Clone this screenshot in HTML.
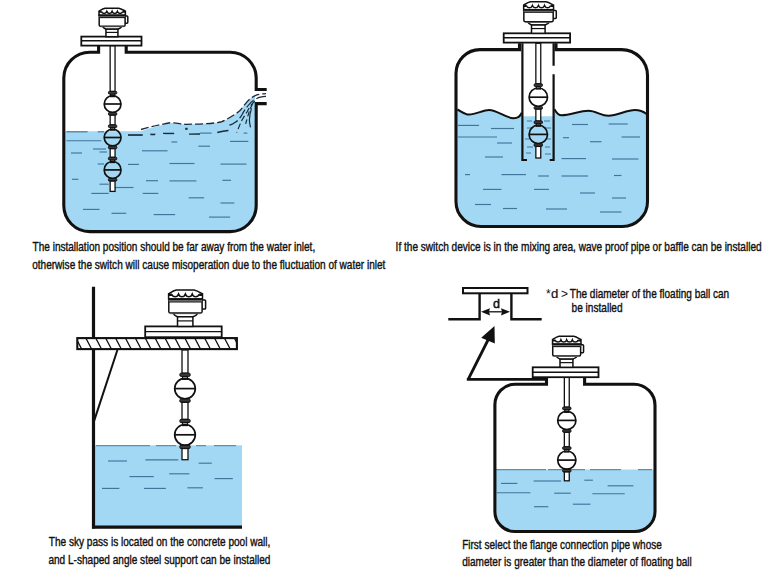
<!DOCTYPE html>
<html><head><meta charset="utf-8"><style>
html,body{margin:0;padding:0;background:#fff;width:780px;height:571px;overflow:hidden;font-family:"Liberation Sans",sans-serif;}
</style></head><body>
<svg width="780" height="571" viewBox="0 0 780 571" style="position:absolute;left:0;top:0">
<rect width="780" height="571" fill="#fff"/>
<path d="M65.2,131.2 L141,131.2 C150,128 160,125 171,123 C178,123.5 182,124.5 186,124.4 C195,124.3 210,124 221,122 C226,120 229,118.5 231.5,116.8 C235,114.5 238,112.5 240,110.5 C243,107 244,105 246.2,103.1 C249,99.5 252,97 255,95.8 L255,205.6 A24.6,24.6 0 0 1 230.4,230.2 L89.8,230.2 A24.6,24.6 0 0 1 65.2,205.6 Z" fill="#a2d8f3"/>
<line x1="66.4" y1="131.8" x2="87.6" y2="131.8" stroke="#40769a" stroke-width="1.15"/>
<line x1="97.7" y1="131.8" x2="104" y2="131.8" stroke="#40769a" stroke-width="1.15"/>
<line x1="66.4" y1="140.7" x2="101.4" y2="140.7" stroke="#40769a" stroke-width="1.15"/>
<line x1="93" y1="149" x2="106" y2="149" stroke="#40769a" stroke-width="1.15"/>
<line x1="71" y1="153" x2="82" y2="153" stroke="#40769a" stroke-width="1.15"/>
<line x1="99.5" y1="152" x2="107" y2="152" stroke="#40769a" stroke-width="1.15"/>
<line x1="128" y1="135.1" x2="142.7" y2="135.1" stroke="#40769a" stroke-width="1.15"/>
<line x1="150" y1="134" x2="155.6" y2="134" stroke="#40769a" stroke-width="1.15"/>
<line x1="142" y1="150.8" x2="167.5" y2="150.8" stroke="#40769a" stroke-width="1.15"/>
<line x1="97.7" y1="164" x2="104" y2="164" stroke="#40769a" stroke-width="1.15"/>
<line x1="128" y1="164.4" x2="139" y2="164.4" stroke="#40769a" stroke-width="1.15"/>
<line x1="72" y1="179.3" x2="78.4" y2="179.3" stroke="#40769a" stroke-width="1.15"/>
<line x1="99.5" y1="184.2" x2="108.7" y2="184.2" stroke="#40769a" stroke-width="1.15"/>
<line x1="115" y1="187.5" x2="133.5" y2="187.5" stroke="#40769a" stroke-width="1.15"/>
<line x1="146" y1="180.7" x2="158" y2="180.7" stroke="#40769a" stroke-width="1.15"/>
<line x1="91.3" y1="193.4" x2="108.7" y2="193.4" stroke="#40769a" stroke-width="1.15"/>
<line x1="142.7" y1="193.4" x2="158.3" y2="193.4" stroke="#40769a" stroke-width="1.15"/>
<line x1="83" y1="209.4" x2="99.5" y2="209.4" stroke="#40769a" stroke-width="1.15"/>
<line x1="111.5" y1="213.3" x2="126.2" y2="213.3" stroke="#40769a" stroke-width="1.15"/>
<line x1="153.7" y1="214.6" x2="175.2" y2="214.6" stroke="#40769a" stroke-width="1.15"/>
<line x1="164.6" y1="133.7" x2="174.3" y2="133.7" stroke="#40769a" stroke-width="1.15"/>
<line x1="171.4" y1="142" x2="177.2" y2="142" stroke="#40769a" stroke-width="1.15"/>
<line x1="198.4" y1="146.2" x2="210" y2="146.2" stroke="#40769a" stroke-width="1.15"/>
<line x1="230" y1="141.4" x2="248.4" y2="141.4" stroke="#40769a" stroke-width="1.15"/>
<line x1="169.5" y1="163.5" x2="194.5" y2="163.5" stroke="#40769a" stroke-width="1.15"/>
<line x1="220.5" y1="164.1" x2="246.5" y2="164.1" stroke="#40769a" stroke-width="1.15"/>
<line x1="169.5" y1="180.9" x2="196.4" y2="180.9" stroke="#40769a" stroke-width="1.15"/>
<line x1="222.4" y1="180.3" x2="231.1" y2="180.3" stroke="#40769a" stroke-width="1.15"/>
<line x1="188.7" y1="197.8" x2="204.1" y2="197.8" stroke="#40769a" stroke-width="1.15"/>
<line x1="220.5" y1="203" x2="234.4" y2="203" stroke="#40769a" stroke-width="1.15"/>
<line x1="209" y1="217.1" x2="230.1" y2="217.1" stroke="#40769a" stroke-width="1.15"/>
<line x1="200" y1="133.1" x2="211.6" y2="133.1" stroke="#40769a" stroke-width="1.15"/>
<line x1="243.6" y1="133.1" x2="247.3" y2="133.1" stroke="#40769a" stroke-width="1.15"/>
<path d="M141,129.5 C150,127 160,124.5 171,122.6 C178,123 182,124.4 186,124.3 C195,124.2 210,124 221,122 C228,119 236,114 240,110.5 C244,106 248,99 254.7,95.8 C258,94.5 262,93.8 266,93.6" fill="none" stroke="#1a2a3a" stroke-width="1.3" stroke-dasharray="8,3"/>
<path d="M266,96.3 C262,96.5 259,97 256.8,98.4 C253,100.5 251,102 249.4,104.2 C246,108 244,111 242,114.7 C240,118 238,120.5 235.7,122 C233,124 231,124.8 229.4,125.2" fill="none" stroke="#1a2a3a" stroke-width="1.2" stroke-dasharray="10,3"/>
<path d="M254.7,101 C251,105 249,108 247.3,111.5 C245,115 243.5,117.5 242,120 C240,124 238.5,128 236.8,132.6" fill="none" stroke="#1a2a3a" stroke-width="1.2" stroke-dasharray="6,3"/>
<path d="M252.5,104.2 C250.5,107.5 249.5,110.5 248.3,114.7 C247,119 246,122 245.2,126.2" fill="none" stroke="#1a2a3a" stroke-width="1.2" stroke-dasharray="5,3"/>
<path d="M251.5,108.4 C250.3,112 249.5,116 249.4,120 C249.4,123 250,125 250.5,127.3" fill="none" stroke="#1a2a3a" stroke-width="1.2"/>
<path d="M217.3,132.5 C221,131.5 225,130.8 228.4,130.5" fill="none" stroke="#1a2a3a" stroke-width="1.3"/>
<path d="M128,135 L142.6,135 M150.6,134.6 L155,134.6 M163,133.3 L174,133.3 M189,134.2 L200,134" fill="none" stroke="#1a2a3a" stroke-width="1.3"/>
<rect x="185.2" y="127.8" width="2.4" height="2" fill="#1a2a3a"/>
<path d="M98.6,45.6 L98.6,52.2 L90,52.2 A26,26 0 0 0 63.8,78 L63.8,205.6 A26,26 0 0 0 89.8,231.6 L230.2,231.6 A26,26 0 0 0 256.2,205.6 L256.2,103.6 L266.7,103.6 M266.7,89.5 L256.2,89.5 L256.2,78 A26,26 0 0 0 230.2,52.2 L126.2,52.2 L126.2,45.6" fill="none" stroke="#111" stroke-width="3.1"/>
<rect x="110.15" y="45.6" width="4.9" height="45.8" rx="0" fill="#fff" stroke="#111" stroke-width="1.3"/>
<rect x="110.6" y="94.0" width="4.0" height="2.6" rx="0" fill="#fff" stroke="#111" stroke-width="1.3"/>
<rect x="108.4" y="91.4" width="8.4" height="2.6" rx="1" fill="#3a3a3a" stroke="#111" stroke-width="1.0"/>
<circle cx="112.6" cy="104.0" r="8.4" fill="none" stroke="#111" stroke-width="1.7"/>
<line x1="104.2" y1="104.0" x2="121.0" y2="104.0" stroke="#111" stroke-width="1.7"/>
<rect x="108.4" y="112.6" width="8.4" height="2.6" rx="1" fill="#3a3a3a" stroke="#111" stroke-width="1.0"/>
<rect x="110.15" y="115.2" width="4.9" height="9.7" rx="0" fill="#fff" stroke="#111" stroke-width="1.3"/>
<rect x="110.6" y="127.5" width="4.0" height="2.6" rx="0" fill="#fff" stroke="#111" stroke-width="1.3"/>
<rect x="108.4" y="124.9" width="8.4" height="2.6" rx="1" fill="#3a3a3a" stroke="#111" stroke-width="1.0"/>
<circle cx="112.6" cy="137.5" r="8.4" fill="none" stroke="#111" stroke-width="1.7"/>
<line x1="104.2" y1="137.5" x2="121.0" y2="137.5" stroke="#111" stroke-width="1.7"/>
<rect x="108.4" y="146.1" width="8.4" height="2.6" rx="1" fill="#3a3a3a" stroke="#111" stroke-width="1.0"/>
<rect x="110.15" y="148.7" width="4.9" height="8.6" rx="0" fill="#fff" stroke="#111" stroke-width="1.3"/>
<rect x="110.6" y="159.9" width="4.0" height="2.6" rx="0" fill="#fff" stroke="#111" stroke-width="1.3"/>
<rect x="108.4" y="157.3" width="8.4" height="2.6" rx="1" fill="#3a3a3a" stroke="#111" stroke-width="1.0"/>
<circle cx="112.6" cy="169.9" r="8.4" fill="none" stroke="#111" stroke-width="1.7"/>
<line x1="104.2" y1="169.9" x2="121.0" y2="169.9" stroke="#111" stroke-width="1.7"/>
<rect x="108.4" y="178.5" width="8.4" height="2.6" rx="1" fill="#3a3a3a" stroke="#111" stroke-width="1.0"/>
<rect x="110.15" y="181.1" width="4.9" height="10.3" rx="0" fill="#fff" stroke="#111" stroke-width="1.3"/>
<rect x="81.3" y="36.6" width="60.2" height="9.0" fill="#fff" stroke="#111" stroke-width="1.8"/><line x1="81.3" y1="40.8" x2="141.5" y2="40.8" stroke="#111" stroke-width="1.4"/>
<rect x="124.61" y="15.97" width="3.19" height="7.2" rx="0.8" fill="#fff" stroke="#111" stroke-width="1.5"/>
<path d="M102.3,26.14 C103.46,28.09 105.02,28.8 105.95,29.19 L117.93,29.19 C119.01,28.8 120.96,28.09 121.97,26.14 Z" fill="#fff" stroke="#111" stroke-width="1.5"/>
<path d="M99.19,15.03 L99.19,24.96 Q99.19,26.29 100.51,26.29 L123.76,26.29 Q125.08,26.29 125.08,24.96 L125.08,15.03 Z" fill="#fff" stroke="#111" stroke-width="1.5"/>
<path d="M99.03,15.34 L99.03,11.12 C100.35,10.33 102.69,8.61 105.02,8.14 L118.78,8.14 C121.35,8.61 123.68,10.33 125.39,11.12 L125.39,15.34 Z" fill="#fff" stroke="#111" stroke-width="1.5"/>
<path d="M98.8,10.96 L101.6,10.96 L101.6,12.84 L98.8,12.84 Z M122.75,10.96 L125.62,10.96 L125.62,12.84 L122.75,12.84 Z" fill="#111"/>
<path d="M101.44,11.59 C102.24,14.09 105.97,14.09 106.77,11.59 C107.57,14.09 111.3,14.09 112.09,11.59 C112.89,14.09 116.62,14.09 117.42,11.59 C118.22,14.09 121.95,14.09 122.75,11.59" fill="none" stroke="#111" stroke-width="1.5"/>
<circle cx="106.77" cy="11.74" r="0.78" fill="#111"/>
<circle cx="112.09" cy="11.74" r="0.78" fill="#111"/>
<circle cx="117.42" cy="11.74" r="0.78" fill="#111"/>
<rect x="99.19" y="15.42" width="25.89" height="2.19" fill="#8a8a8a"/>
<line x1="99.03" y1="15.42" x2="125.39" y2="15.42" stroke="#111" stroke-width="1.9"/>
<line x1="99.19" y1="17.61" x2="125.08" y2="17.61" stroke="#111" stroke-width="1.1"/>
<line x1="100.35" y1="26.76" x2="123.68" y2="26.76" stroke="#666" stroke-width="0.8"/>
<rect x="105.95" y="29.19" width="11.97" height="7.51" fill="#fff" stroke="#111" stroke-width="1.5"/>
<line x1="105.95" y1="32.4" x2="117.93" y2="32.4" stroke="#111" stroke-width="1.2"/>
<path d="M457.4,109.5 C462,112 465,114.6 469,114.6 C476,114.6 483,110 489,110 C497,110 506,118.2 513.6,118.2 C517.5,118.2 520.5,116 521.8,112.6 L522.5,116.2 L553.3,116.2 L554.4,109.2 C556,112 558,115.3 561.5,115.3 C570,115.3 580,110.8 588.3,110.8 C596,110.8 601,115.8 608.3,115.8 C618,115.8 626,110 635,110 C640,110 644,112 646.6,114 L646,201.5 A23.5,23.5 0 0 1 622.5,225 L481,225 A23.5,23.5 0 0 1 457.5,201.5 Z" fill="#a2d8f3"/>
<line x1="458" y1="125.4" x2="479" y2="125.4" stroke="#40769a" stroke-width="1.15"/>
<line x1="491" y1="128.5" x2="514" y2="128.5" stroke="#40769a" stroke-width="1.15"/>
<line x1="458" y1="137" x2="497" y2="137" stroke="#40769a" stroke-width="1.15"/>
<line x1="497" y1="143" x2="512" y2="143" stroke="#40769a" stroke-width="1.15"/>
<line x1="485" y1="157" x2="503" y2="157" stroke="#40769a" stroke-width="1.15"/>
<line x1="465" y1="174.6" x2="470" y2="174.6" stroke="#40769a" stroke-width="1.15"/>
<line x1="501.5" y1="174.6" x2="526" y2="174.6" stroke="#40769a" stroke-width="1.15"/>
<line x1="538" y1="176" x2="549" y2="176" stroke="#40769a" stroke-width="1.15"/>
<line x1="561.5" y1="176" x2="588" y2="176" stroke="#40769a" stroke-width="1.15"/>
<line x1="614" y1="175.5" x2="621.5" y2="175.5" stroke="#40769a" stroke-width="1.15"/>
<line x1="483" y1="189.4" x2="501.5" y2="189.4" stroke="#40769a" stroke-width="1.15"/>
<line x1="534" y1="189.4" x2="549" y2="189.4" stroke="#40769a" stroke-width="1.15"/>
<line x1="580" y1="193" x2="595" y2="193" stroke="#40769a" stroke-width="1.15"/>
<line x1="612" y1="198" x2="626" y2="198" stroke="#40769a" stroke-width="1.15"/>
<line x1="475" y1="204.5" x2="491" y2="204.5" stroke="#40769a" stroke-width="1.15"/>
<line x1="503" y1="208.5" x2="517" y2="208.5" stroke="#40769a" stroke-width="1.15"/>
<line x1="546" y1="209" x2="567" y2="209" stroke="#40769a" stroke-width="1.15"/>
<line x1="600" y1="212" x2="621.5" y2="212" stroke="#40769a" stroke-width="1.15"/>
<line x1="572" y1="124.5" x2="588" y2="124.5" stroke="#40769a" stroke-width="1.15"/>
<line x1="608.6" y1="124" x2="627.7" y2="124" stroke="#40769a" stroke-width="1.15"/>
<line x1="563" y1="137.7" x2="569" y2="137.7" stroke="#40769a" stroke-width="1.15"/>
<line x1="590" y1="141.7" x2="601.5" y2="141.7" stroke="#40769a" stroke-width="1.15"/>
<line x1="621.5" y1="137" x2="640" y2="137" stroke="#40769a" stroke-width="1.15"/>
<line x1="561.5" y1="158.6" x2="586" y2="158.6" stroke="#40769a" stroke-width="1.15"/>
<line x1="612" y1="159" x2="638.5" y2="159" stroke="#40769a" stroke-width="1.15"/>
<line x1="527" y1="121" x2="532" y2="121" stroke="#40769a" stroke-width="1.0"/>
<line x1="544" y1="121" x2="550" y2="121" stroke="#40769a" stroke-width="1.0"/>
<line x1="527" y1="128" x2="533" y2="128" stroke="#40769a" stroke-width="1.0"/>
<line x1="544" y1="128" x2="551" y2="128" stroke="#40769a" stroke-width="1.0"/>
<line x1="525" y1="139" x2="531" y2="139" stroke="#40769a" stroke-width="1.0"/>
<line x1="545" y1="139" x2="551" y2="139" stroke="#40769a" stroke-width="1.0"/>
<line x1="527" y1="147" x2="533" y2="147" stroke="#40769a" stroke-width="1.0"/>
<line x1="545" y1="147" x2="550" y2="147" stroke="#40769a" stroke-width="1.0"/>
<line x1="526" y1="153" x2="531" y2="153" stroke="#40769a" stroke-width="1.0"/>
<line x1="545" y1="154" x2="551" y2="154" stroke="#40769a" stroke-width="1.0"/>
<path d="M457.4,109.5 C462,112 465,114.6 469,114.6 C476,114.6 483,110 489,110 C497,110 506,118.2 513.6,118.2 C517.5,118.2 520.5,116 521.8,112.6" fill="none" stroke="#111" stroke-width="2"/>
<path d="M554.4,109.2 C556,112 558,115.3 561.5,115.3 C570,115.3 580,110.8 588.3,110.8 C596,110.8 601,115.8 608.3,115.8 C618,115.8 626,110 635,110 C640,110 644,112 646.6,114" fill="none" stroke="#111" stroke-width="2"/>
<path d="M519.5,43.3 L519.5,49.6 L480,49.6 A24,24 0 0 0 456,73.6 L456,201.5 A25,25 0 0 0 481,226.5 L622.5,226.5 A25,25 0 0 0 647.5,201.5 L647.5,75.6 A26,26 0 0 0 621.5,49.6 L556,49.6 L556,43.3" fill="none" stroke="#111" stroke-width="3.1"/>
<path d="M522.4,43.3 L522.4,160 L527,160 M549.7,160 L553.6,160 L553.6,74.2 M553.6,65.7 L553.6,43.3" fill="none" stroke="#111" stroke-width="2.2"/>
<rect x="535.85" y="43.3" width="4.9" height="40.5" rx="0" fill="#fff" stroke="#111" stroke-width="1.3"/>
<rect x="536.3" y="86.4" width="4.0" height="2.6" rx="0" fill="#fff" stroke="#111" stroke-width="1.3"/>
<rect x="534.1" y="83.8" width="8.4" height="2.6" rx="1" fill="#3a3a3a" stroke="#111" stroke-width="1.0"/>
<circle cx="538.3" cy="97.2" r="9.2" fill="none" stroke="#111" stroke-width="1.7"/>
<line x1="529.1" y1="97.2" x2="547.5" y2="97.2" stroke="#111" stroke-width="1.7"/>
<rect x="534.1" y="106.6" width="8.4" height="2.6" rx="1" fill="#3a3a3a" stroke="#111" stroke-width="1.0"/>
<rect x="535.85" y="109.2" width="4.9" height="11.8" rx="0" fill="#fff" stroke="#111" stroke-width="1.3"/>
<rect x="536.3" y="123.6" width="4.0" height="2.6" rx="0" fill="#fff" stroke="#111" stroke-width="1.3"/>
<rect x="534.1" y="121.0" width="8.4" height="2.6" rx="1" fill="#3a3a3a" stroke="#111" stroke-width="1.0"/>
<circle cx="538.3" cy="134.4" r="9.2" fill="none" stroke="#111" stroke-width="1.7"/>
<line x1="529.1" y1="134.4" x2="547.5" y2="134.4" stroke="#111" stroke-width="1.7"/>
<rect x="534.1" y="143.8" width="8.4" height="2.6" rx="1" fill="#3a3a3a" stroke="#111" stroke-width="1.0"/>
<rect x="535.85" y="146.4" width="4.9" height="11.6" rx="0" fill="#fff" stroke="#111" stroke-width="1.3"/>
<rect x="503.7" y="33.3" width="66.4" height="9.3" fill="#fff" stroke="#111" stroke-width="1.8"/><line x1="503.7" y1="37.8" x2="570.1" y2="37.8" stroke="#111" stroke-width="1.4"/>
<rect x="552.67" y="10.45" width="3.61" height="7.93" rx="0.8" fill="#fff" stroke="#111" stroke-width="1.5"/>
<path d="M527.37,21.66 C528.69,23.82 530.45,24.59 531.51,25.02 L545.08,25.02 C546.32,24.59 548.52,23.82 549.67,21.66 Z" fill="#fff" stroke="#111" stroke-width="1.5"/>
<path d="M523.84,9.42 L523.84,20.37 Q523.84,21.83 525.34,21.83 L551.7,21.83 Q553.19,21.83 553.19,20.37 L553.19,9.42 Z" fill="#fff" stroke="#111" stroke-width="1.5"/>
<path d="M523.66,9.76 L523.66,5.1 C525.16,4.24 527.81,2.34 530.45,1.83 L546.05,1.83 C548.96,2.34 551.61,4.24 553.55,5.1 L553.55,9.76 Z" fill="#fff" stroke="#111" stroke-width="1.5"/>
<path d="M523.4,4.93 L526.57,4.93 L526.57,7.0 L523.4,7.0 Z M550.55,4.93 L553.81,4.93 L553.81,7.0 L550.55,7.0 Z" fill="#111"/>
<path d="M526.4,5.62 C527.3,8.38 531.53,8.38 532.44,5.62 C533.34,8.38 537.57,8.38 538.47,5.62 C539.38,8.38 543.61,8.38 544.51,5.62 C545.42,8.38 549.64,8.38 550.55,5.62" fill="none" stroke="#111" stroke-width="1.5"/>
<circle cx="532.44" cy="5.79" r="0.88" fill="#111"/>
<circle cx="538.47" cy="5.79" r="0.88" fill="#111"/>
<circle cx="544.51" cy="5.79" r="0.88" fill="#111"/>
<rect x="523.84" y="9.85" width="29.35" height="2.41" fill="#8a8a8a"/>
<line x1="523.66" y1="9.85" x2="553.55" y2="9.85" stroke="#111" stroke-width="1.9"/>
<line x1="523.84" y1="12.26" x2="553.19" y2="12.26" stroke="#111" stroke-width="1.1"/>
<line x1="525.16" y1="22.35" x2="551.61" y2="22.35" stroke="#666" stroke-width="0.8"/>
<rect x="531.51" y="25.02" width="13.58" height="8.28" fill="#fff" stroke="#111" stroke-width="1.5"/>
<line x1="531.51" y1="28.56" x2="545.08" y2="28.56" stroke="#111" stroke-width="1.2"/>
<rect x="95" y="445.3" width="147" height="81" fill="#a2d8f3"/>
<line x1="108" y1="461" x2="127" y2="461" stroke="#40769a" stroke-width="1.15"/>
<line x1="145.4" y1="459.8" x2="178.2" y2="459.8" stroke="#40769a" stroke-width="1.15"/>
<line x1="198.7" y1="463.2" x2="211.8" y2="463.2" stroke="#40769a" stroke-width="1.15"/>
<line x1="129.5" y1="476.6" x2="153.8" y2="476.6" stroke="#40769a" stroke-width="1.15"/>
<line x1="169.2" y1="473.8" x2="189.4" y2="473.8" stroke="#40769a" stroke-width="1.15"/>
<line x1="214.6" y1="478.6" x2="232.8" y2="478.6" stroke="#40769a" stroke-width="1.15"/>
<line x1="102" y1="488.4" x2="119.4" y2="488.4" stroke="#40769a" stroke-width="1.15"/>
<line x1="144" y1="488.4" x2="165.9" y2="488.4" stroke="#40769a" stroke-width="1.15"/>
<line x1="187.4" y1="487.8" x2="202.9" y2="487.8" stroke="#40769a" stroke-width="1.15"/>
<path d="M96,445.6 L150,445.6 M156,445.6 L176,445.6 M196,445.6 L206,445.6 M214,445.6 L236,445.6" stroke="#5a8fb3" stroke-width="1.2"/>
<line x1="93.5" y1="286.7" x2="93.5" y2="528.5" stroke="#111" stroke-width="3.2"/>
<line x1="92" y1="527.2" x2="242" y2="527.2" stroke="#111" stroke-width="3.2"/>
<line x1="117.4" y1="350" x2="94.2" y2="420.6" stroke="#111" stroke-width="2"/>
<defs><clipPath id="slabclip"><rect x="77.3" y="338.1" width="159.6" height="11"/></clipPath></defs>
<rect x="77.3" y="338.1" width="159.6" height="11" fill="#fff"/>
<path d="M66.0,338 L71.8,349 M75.9,338 L81.7,349 M85.8,338 L91.6,349 M95.7,338 L101.5,349 M105.6,338 L111.4,349 M115.5,338 L121.3,349 M125.4,338 L131.2,349 M135.3,338 L141.1,349 M145.2,338 L151.0,349 M155.1,338 L160.9,349 M165.0,338 L170.8,349 M174.9,338 L180.7,349 M184.8,338 L190.6,349 M194.7,338 L200.5,349 M204.6,338 L210.4,349 M214.5,338 L220.3,349 M224.4,338 L230.2,349 M234.3,338 L240.1,349 M244.2,338 L250.0,349" stroke="#111" stroke-width="1.3" clip-path="url(#slabclip)"/>
<rect x="77.3" y="338.1" width="159.6" height="11" fill="none" stroke="#111" stroke-width="2.1"/>
<rect x="182.01" y="350.0" width="5.98" height="23.18" rx="0" fill="#fff" stroke="#111" stroke-width="1.3"/>
<rect x="182.56" y="376.35" width="4.88" height="2.95" rx="0" fill="#fff" stroke="#111" stroke-width="1.3"/>
<rect x="179.88" y="373.18" width="10.25" height="3.17" rx="1" fill="#3a3a3a" stroke="#111" stroke-width="1.0"/>
<circle cx="185.0" cy="388.6" r="10.3" fill="none" stroke="#111" stroke-width="1.7"/>
<line x1="174.7" y1="388.6" x2="195.3" y2="388.6" stroke="#111" stroke-width="1.7"/>
<rect x="179.88" y="399.14" width="10.25" height="3.17" rx="1" fill="#3a3a3a" stroke="#111" stroke-width="1.0"/>
<rect x="182.01" y="402.32" width="5.98" height="17.06" rx="0" fill="#fff" stroke="#111" stroke-width="1.3"/>
<rect x="182.56" y="422.55" width="4.88" height="2.95" rx="0" fill="#fff" stroke="#111" stroke-width="1.3"/>
<rect x="179.88" y="419.38" width="10.25" height="3.17" rx="1" fill="#3a3a3a" stroke="#111" stroke-width="1.0"/>
<circle cx="185.0" cy="434.8" r="10.3" fill="none" stroke="#111" stroke-width="1.7"/>
<line x1="174.7" y1="434.8" x2="195.3" y2="434.8" stroke="#111" stroke-width="1.7"/>
<rect x="179.88" y="445.34" width="10.25" height="3.17" rx="1" fill="#3a3a3a" stroke="#111" stroke-width="1.0"/>
<rect x="182.01" y="448.52" width="5.98" height="11.18" rx="0" fill="#fff" stroke="#111" stroke-width="1.3"/>
<rect x="145.2" y="326.4" width="76.5" height="10.8" fill="#fff" stroke="#111" stroke-width="1.8"/><line x1="145.2" y1="331.6" x2="221.7" y2="331.6" stroke="#111" stroke-width="1.4"/>
<rect x="201.5" y="299.9" width="4.1" height="9.2" rx="0.8" fill="#fff" stroke="#111" stroke-width="1.5"/>
<path d="M172.8,312.9 C174.3,315.4 176.3,316.3 177.5,316.8 L192.9,316.8 C194.3,316.3 196.8,315.4 198.1,312.9 Z" fill="#fff" stroke="#111" stroke-width="1.5"/>
<path d="M168.8,298.7 L168.8,311.4 Q168.8,313.1 170.5,313.1 L200.4,313.1 Q202.1,313.1 202.1,311.4 L202.1,298.7 Z" fill="#fff" stroke="#111" stroke-width="1.5"/>
<path d="M168.6,299.1 L168.6,293.7 C170.3,292.7 173.3,290.5 176.3,289.9 L194.0,289.9 C197.3,290.5 200.3,292.7 202.5,293.7 L202.5,299.1 Z" fill="#fff" stroke="#111" stroke-width="1.5"/>
<path d="M168.3,293.5 L171.9,293.5 L171.9,295.9 L168.3,295.9 Z M199.1,293.5 L202.8,293.5 L202.8,295.9 L199.1,295.9 Z" fill="#111"/>
<path d="M171.7,294.3 C172.73,297.5 177.52,297.5 178.55,294.3 C179.58,297.5 184.37,297.5 185.4,294.3 C186.43,297.5 191.22,297.5 192.25,294.3 C193.28,297.5 198.07,297.5 199.1,294.3" fill="none" stroke="#111" stroke-width="1.5"/>
<circle cx="178.55" cy="294.5" r="1.0" fill="#111"/>
<circle cx="185.4" cy="294.5" r="1.0" fill="#111"/>
<circle cx="192.25" cy="294.5" r="1.0" fill="#111"/>
<rect x="168.8" y="299.2" width="33.3" height="2.8" fill="#8a8a8a"/>
<line x1="168.6" y1="299.2" x2="202.5" y2="299.2" stroke="#111" stroke-width="1.9"/>
<line x1="168.8" y1="302.0" x2="202.1" y2="302.0" stroke="#111" stroke-width="1.1"/>
<line x1="170.3" y1="313.7" x2="200.3" y2="313.7" stroke="#666" stroke-width="0.8"/>
<rect x="177.5" y="316.8" width="15.4" height="9.6" fill="#fff" stroke="#111" stroke-width="1.5"/>
<line x1="177.5" y1="320.9" x2="192.9" y2="320.9" stroke="#111" stroke-width="1.2"/>
<rect x="463" y="288" width="64.5" height="5.3" fill="#fff" stroke="#111" stroke-width="2"/>
<path d="M448.3,319.2 L479.6,319.2 L479.6,293.8 M511.4,293.8 L511.4,319.2 L541.7,319.2" fill="none" stroke="#111" stroke-width="2.4"/>
<line x1="488" y1="311.8" x2="503" y2="311.8" stroke="#111" stroke-width="1.3"/>
<path d="M481,311.8 L490,308.2 L489,311.8 L490,315.4 Z M510,311.8 L501,308.2 L502,311.8 L501,315.4 Z" fill="#111"/>
<text x="496.4" y="307.6" font-family="Liberation Sans" font-size="12.5" text-anchor="middle" fill="#111" stroke="#111" stroke-width="0.5">d</text>
<path d="M468.2,379.4 L489.5,337" fill="none" stroke="#111" stroke-width="2.8"/>
<path d="M494.5,326 L481.2,337.8 L494.8,343.4 Z" fill="#111"/>
<path d="M466.8,379.4 L546.5,379.4" stroke="#111" stroke-width="2.8"/>
<path d="M495.8,469.4 L653.8,469.4 L653.6,511.5 A18.6,18.6 0 0 1 635,530.1 L514.9,530.1 A18.6,18.6 0 0 1 496.3,511.5 Z" fill="#a2d8f3"/>
<line x1="501" y1="483.4" x2="517.4" y2="483.4" stroke="#40769a" stroke-width="1.15"/>
<line x1="533.6" y1="481" x2="561" y2="481" stroke="#40769a" stroke-width="1.15"/>
<line x1="584.3" y1="480.2" x2="592.9" y2="480.2" stroke="#40769a" stroke-width="1.15"/>
<line x1="607.6" y1="485.8" x2="633.4" y2="485.8" stroke="#40769a" stroke-width="1.15"/>
<line x1="496.8" y1="492.7" x2="530.4" y2="492.7" stroke="#40769a" stroke-width="1.15"/>
<line x1="554.2" y1="493.2" x2="570.8" y2="493.2" stroke="#40769a" stroke-width="1.15"/>
<line x1="592.4" y1="493.7" x2="624.8" y2="493.7" stroke="#40769a" stroke-width="1.15"/>
<line x1="534" y1="506.7" x2="548.3" y2="506.7" stroke="#40769a" stroke-width="1.15"/>
<line x1="572.8" y1="504.2" x2="590.4" y2="504.2" stroke="#40769a" stroke-width="1.15"/>
<path d="M496,469.6 L546,469.6 M548,469.6 L585,469.6 M590,469.6 L621,469.6 M638,469.6 L652,469.6" stroke="#5a8fb3" stroke-width="1.2"/>
<path d="M546.5,377.3 L546.5,384.2 L515.4,384.2 A20.5,20.5 0 0 0 494.9,404.7 L494.9,511.5 A20,20 0 0 0 514.9,531.5 L635,531.5 A20,20 0 0 0 655,511.5 L655,405.2 A21,21 0 0 0 634,384.2 L584.6,384.2 L584.6,377.3" fill="none" stroke="#111" stroke-width="3.1"/>
<rect x="564.35" y="377.0" width="4.9" height="30.1" rx="0" fill="#fff" stroke="#111" stroke-width="1.3"/>
<rect x="564.8" y="409.7" width="4.0" height="2.6" rx="0" fill="#fff" stroke="#111" stroke-width="1.3"/>
<rect x="562.6" y="407.1" width="8.4" height="2.6" rx="1" fill="#3a3a3a" stroke="#111" stroke-width="1.0"/>
<circle cx="566.8" cy="420.4" r="9.1" fill="none" stroke="#111" stroke-width="1.7"/>
<line x1="557.7" y1="420.4" x2="575.9" y2="420.4" stroke="#111" stroke-width="1.7"/>
<rect x="562.6" y="429.7" width="8.4" height="2.6" rx="1" fill="#3a3a3a" stroke="#111" stroke-width="1.0"/>
<rect x="564.35" y="432.3" width="4.9" height="14.5" rx="0" fill="#fff" stroke="#111" stroke-width="1.3"/>
<rect x="564.8" y="449.4" width="4.0" height="2.6" rx="0" fill="#fff" stroke="#111" stroke-width="1.3"/>
<rect x="562.6" y="446.8" width="8.4" height="2.6" rx="1" fill="#3a3a3a" stroke="#111" stroke-width="1.0"/>
<circle cx="566.8" cy="460.1" r="9.1" fill="none" stroke="#111" stroke-width="1.7"/>
<line x1="557.7" y1="460.1" x2="575.9" y2="460.1" stroke="#111" stroke-width="1.7"/>
<rect x="562.6" y="469.4" width="8.4" height="2.6" rx="1" fill="#3a3a3a" stroke="#111" stroke-width="1.0"/>
<rect x="564.35" y="472.0" width="4.9" height="8.8" rx="0" fill="#fff" stroke="#111" stroke-width="1.3"/>
<rect x="532.7" y="367.3" width="65.8" height="9.9" fill="#fff" stroke="#111" stroke-width="1.8"/><line x1="532.7" y1="372.3" x2="598.5" y2="372.3" stroke="#111" stroke-width="1.4"/>
<rect x="580.13" y="344.82" width="3.44" height="7.81" rx="0.8" fill="#fff" stroke="#111" stroke-width="1.5"/>
<path d="M556.07,355.85 C557.33,357.97 559.01,358.73 560.01,359.15 L572.92,359.15 C574.09,358.73 576.19,357.97 577.28,355.85 Z" fill="#fff" stroke="#111" stroke-width="1.5"/>
<path d="M552.72,343.8 L552.72,354.57 Q552.72,356.02 554.14,356.02 L579.2,356.02 Q580.63,356.02 580.63,354.57 L580.63,343.8 Z" fill="#fff" stroke="#111" stroke-width="1.5"/>
<path d="M552.55,344.14 L552.55,339.55 C553.98,338.71 556.49,336.84 559.01,336.33 L573.84,336.33 C576.61,336.84 579.12,338.71 580.96,339.55 L580.96,344.14 Z" fill="#fff" stroke="#111" stroke-width="1.5"/>
<path d="M552.3,339.38 L555.32,339.38 L555.32,341.42 L552.3,341.42 Z M578.12,339.38 L581.22,339.38 L581.22,341.42 L578.12,341.42 Z" fill="#111"/>
<path d="M555.15,340.06 C556.01,342.78 560.03,342.78 560.89,340.06 C561.75,342.78 565.77,342.78 566.63,340.06 C567.49,342.78 571.51,342.78 572.37,340.06 C573.23,342.78 577.25,342.78 578.12,340.06" fill="none" stroke="#111" stroke-width="1.5"/>
<circle cx="560.89" cy="340.23" r="0.84" fill="#111"/>
<circle cx="566.63" cy="340.23" r="0.84" fill="#111"/>
<circle cx="572.37" cy="340.23" r="0.84" fill="#111"/>
<rect x="552.72" y="344.22" width="27.91" height="2.38" fill="#8a8a8a"/>
<line x1="552.55" y1="344.22" x2="580.96" y2="344.22" stroke="#111" stroke-width="1.9"/>
<line x1="552.72" y1="346.6" x2="580.63" y2="346.6" stroke="#111" stroke-width="1.1"/>
<line x1="553.98" y1="356.52" x2="579.12" y2="356.52" stroke="#666" stroke-width="0.8"/>
<rect x="560.01" y="359.15" width="12.91" height="8.15" fill="#fff" stroke="#111" stroke-width="1.5"/>
<line x1="560.01" y1="362.63" x2="572.92" y2="362.63" stroke="#111" stroke-width="1.2"/>
<text x="32.6" y="250.6" textLength="282.6" lengthAdjust="spacingAndGlyphs" font-family="Liberation Sans" font-size="12.2" fill="#111" stroke="#111" stroke-width="0.38">The installation position should be far away from the water inlet,</text>
<text x="32.2" y="268.6" textLength="353.2" lengthAdjust="spacingAndGlyphs" font-family="Liberation Sans" font-size="12.2" fill="#111" stroke="#111" stroke-width="0.38">otherwise the switch will cause misoperation due to the fluctuation of water inlet</text>
<text x="395.6" y="250.6" textLength="366.0" lengthAdjust="spacingAndGlyphs" font-family="Liberation Sans" font-size="12.2" fill="#111" stroke="#111" stroke-width="0.38">If the switch device is in the mixing area, wave proof pipe or baffle can be installed</text>
<text x="48.8" y="546.2" textLength="221.6" lengthAdjust="spacingAndGlyphs" font-family="Liberation Sans" font-size="12.2" fill="#111" stroke="#111" stroke-width="0.38">The sky pass is located on the concrete pool wall,</text>
<text x="48.4" y="563.8" textLength="222.0" lengthAdjust="spacingAndGlyphs" font-family="Liberation Sans" font-size="12.2" fill="#111" stroke="#111" stroke-width="0.38">and L-shaped angle steel support can be installed</text>
<text x="462.2" y="548.8" textLength="199.6" lengthAdjust="spacingAndGlyphs" font-family="Liberation Sans" font-size="12.2" fill="#111" stroke="#111" stroke-width="0.38">First select the flange connection pipe whose</text>
<text x="462.2" y="566.3" textLength="229.6" lengthAdjust="spacingAndGlyphs" font-family="Liberation Sans" font-size="12.2" fill="#111" stroke="#111" stroke-width="0.38">diameter is greater than the diameter of floating ball</text>
<text x="569.8" y="297.8" textLength="159.4" lengthAdjust="spacingAndGlyphs" font-family="Liberation Sans" font-size="12.2" fill="#111" stroke="#111" stroke-width="0.38">The diameter of the floating ball can</text>
<text x="571.6" y="311.5" textLength="51.0" lengthAdjust="spacingAndGlyphs" font-family="Liberation Sans" font-size="12.2" fill="#111" stroke="#111" stroke-width="0.38">be installed</text>
<text x="546" y="297.9" font-family="Liberation Sans" font-size="12" fill="#111">*</text>
<text x="551.0" y="297.8" font-family="Liberation Sans" font-size="13.2" fill="#111" stroke="#111" stroke-width="0.2">d</text>
<text x="561" y="297.9" font-family="Liberation Sans" font-size="12" fill="#111" textLength="7" lengthAdjust="spacingAndGlyphs">&gt;</text>
</svg>
</body></html>
